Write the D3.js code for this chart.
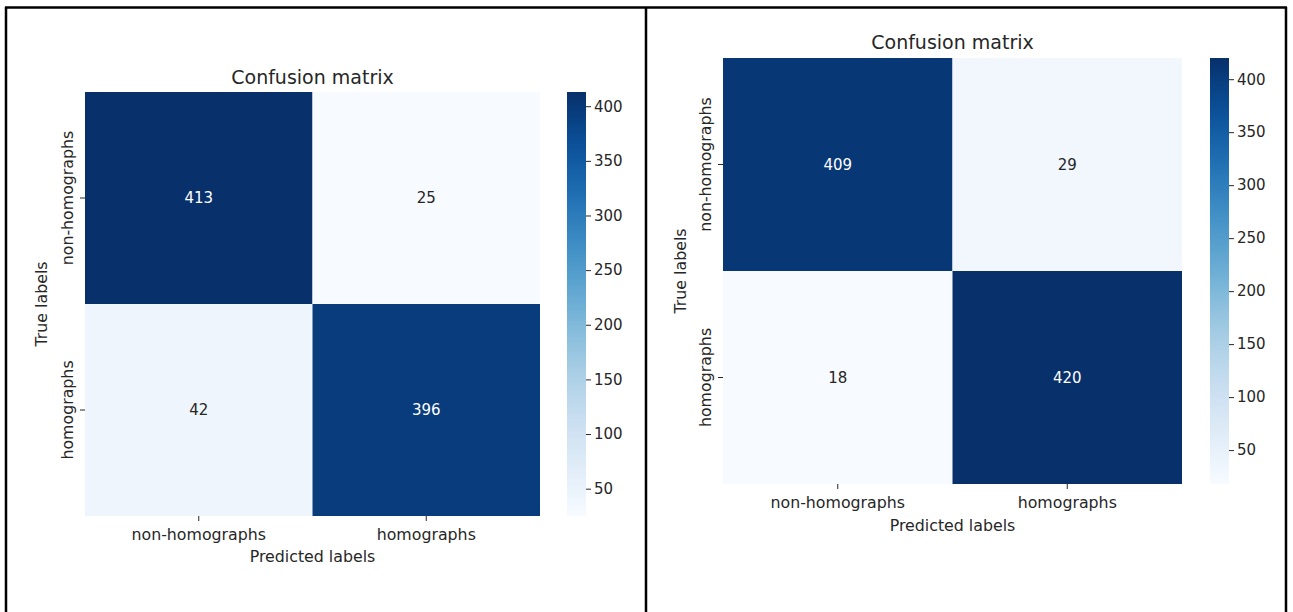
<!DOCTYPE html>
<html>
<head>
<meta charset="utf-8">
<script src="https://cdn.jsdelivr.net/npm/d3@7"></script>
<style>
  html, body { margin: 0; padding: 0; background: #fff; }
  svg { display: block; }
  text { font-family: "DejaVu Sans", sans-serif; fill: #262626; }
</style>
</head>
<body>
<svg id="chart" width="1293" height="612"></svg>
<script>
// Class names shared by both matrices
const classLabels = ["non-homographs", "homographs"];

// Confusion matrix counts, rows = true class, columns = predicted class
const matrixA = [[413, 25], [42, 396]];
const matrixB = [[409, 29], [18, 420]];

// Colorbar tick values
const colorbarTicks = [50, 100, 150, 200, 250, 300, 350, 400];

const titleText = "Confusion matrix";
const xLabelText = "Predicted labels";
const yLabelText = "True labels";

const svg = d3.select("#chart");

// Frame around the two panels
const frame = svg.append("g").attr("fill", "none").attr("stroke", "#000").attr("stroke-width", 2.5);
frame.append("line").attr("x1", 5).attr("x2", 1287).attr("y1", 7.5).attr("y2", 7.5);
frame.append("line").attr("x1", 6).attr("x2", 6).attr("y1", 7).attr("y2", 612);
frame.append("line").attr("x1", 646).attr("x2", 646).attr("y1", 7).attr("y2", 612);
frame.append("line").attr("x1", 1286).attr("x2", 1286).attr("y1", 7).attr("y2", 612);

function drawPanel(matrix, box) {
  const g = svg.append("g");
  const flat = matrix.flat();
  const vmin = d3.min(flat), vmax = d3.max(flat);
  const color = d3.scaleSequential(d3.interpolateBlues).domain([vmin, vmax]);

  const x = d3.scaleBand().domain(classLabels).range([box.x0, box.x1]);
  const y = d3.scaleBand().domain(classLabels).range([box.y0, box.y1]);

  const cells = [];
  matrix.forEach((row, i) => row.forEach((v, j) => cells.push({ r: classLabels[i], c: classLabels[j], v })));

  g.selectAll("rect.cell").data(cells).join("rect")
    .attr("class", "cell")
    .attr("x", d => x(d.c)).attr("y", d => y(d.r))
    .attr("width", x.bandwidth()).attr("height", y.bandwidth())
    .attr("fill", d => color(d.v));

  g.selectAll("text.annot").data(cells).join("text")
    .attr("class", "annot")
    .attr("x", d => x(d.c) + x.bandwidth() / 2)
    .attr("y", d => y(d.r) + y.bandwidth() / 2)
    .attr("text-anchor", "middle").attr("dominant-baseline", "central")
    .style("font-size", "15px")
    .style("fill", d => (d.v - vmin) / (vmax - vmin) > 0.5 ? "#ffffff" : "#262626")
    .text(d => d.v);

  // Axes
  const xAxis = g.append("g").attr("transform", `translate(0,${box.y1})`)
    .call(d3.axisBottom(x).tickSize(5).tickPadding(8));
  const yAxis = g.append("g").attr("transform", `translate(${box.x0},0)`)
    .call(d3.axisLeft(y).tickSize(5).tickPadding(4));
  [xAxis, yAxis].forEach(a => {
    a.select(".domain").remove();
    a.selectAll(".tick line").attr("stroke", "#262626").attr("stroke-width", 1);
    a.selectAll(".tick text").style("font-size", "15.8px").style("fill", "#262626");
  });
  yAxis.selectAll(".tick text")
    .attr("x", null).attr("dy", null)
    .attr("text-anchor", "middle")
    .attr("transform", "translate(-12,0) rotate(-90)")
    .attr("dominant-baseline", "auto");
  xAxis.selectAll(".tick text").attr("dy", "0.71em");

  // Title and axis labels
  g.append("text").attr("x", (box.x0 + box.x1) / 2).attr("y", box.titleY)
    .attr("text-anchor", "middle").style("font-size", "19px").text(titleText);
  g.append("text").attr("x", (box.x0 + box.x1) / 2).attr("y", box.xLabelY)
    .attr("text-anchor", "middle").style("font-size", "15.8px").text(xLabelText);
  g.append("text")
    .attr("transform", `translate(${box.yLabelX},${(box.y0 + box.y1) / 2}) rotate(-90)`)
    .attr("text-anchor", "middle").style("font-size", "15.8px").text(yLabelText);

  // Colorbar
  const gradId = "grad" + box.x0;
  const grad = svg.append("defs").append("linearGradient")
    .attr("id", gradId).attr("x1", 0).attr("x2", 0).attr("y1", 1).attr("y2", 0);
  d3.range(0, 1.0001, 0.05).forEach(t => {
    grad.append("stop").attr("offset", t).attr("stop-color", d3.interpolateBlues(t));
  });
  g.append("rect").attr("x", box.cbX).attr("y", box.y0)
    .attr("width", box.cbW).attr("height", box.y1 - box.y0)
    .attr("fill", `url(#${gradId})`);
  const cbScale = d3.scaleLinear().domain([vmin, vmax]).range([box.y1, box.y0]);
  const cbAxis = g.append("g").attr("transform", `translate(${box.cbX + box.cbW},0)`)
    .call(d3.axisRight(cbScale).tickValues(colorbarTicks).tickSize(5).tickPadding(3));
  cbAxis.select(".domain").remove();
  cbAxis.selectAll(".tick line").attr("stroke", "#262626");
  cbAxis.selectAll(".tick text").style("font-size", "15px").style("fill", "#262626");
}

drawPanel(matrixA, { x0: 85, x1: 540, y0: 92, y1: 516, cbX: 567, cbW: 19, titleY: 84, xLabelY: 562, yLabelX: 47 });
drawPanel(matrixB, { x0: 723, x1: 1182, y0: 58, y1: 484, cbX: 1210, cbW: 19, titleY: 49, xLabelY: 531, yLabelX: 686 });
</script>
</body>
</html>
